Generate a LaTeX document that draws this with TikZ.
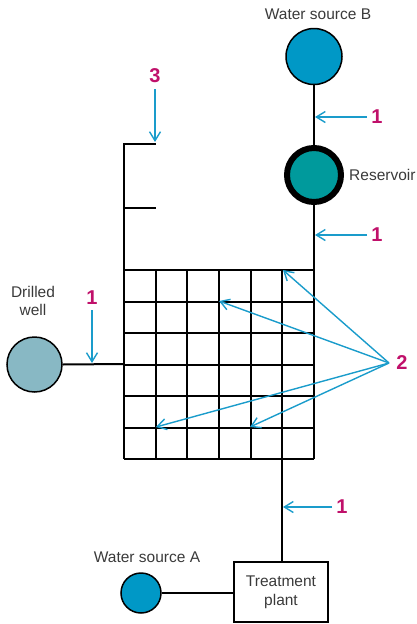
\documentclass[tikz,border=0pt]{standalone}
\usepackage{fontspec}
\setmainfont{Liberation Sans}
\usetikzlibrary{arrows.meta}
\definecolor{srcblue}{HTML}{0098C6}
\definecolor{wellblue}{HTML}{88B8C4}
\definecolor{resteal}{HTML}{009A9C}
\definecolor{arrcyan}{HTML}{1A9CCB}
\definecolor{labmag}{HTML}{C0106A}
\definecolor{txtgray}{HTML}{3A3A3A}
\tikzset{
  pipe/.style={line width=2pt, black},
  callout/.style={line width=1.4pt, arrcyan, -{Straight Barb[length=9pt,width=11pt,line width=1.4pt]}},
  num/.style={text=labmag, font=\fontsize{20}{20}\selectfont\bfseries, inner sep=0pt},
  lbl/.style={text=txtgray, font=\fontsize{15.5}{18}\selectfont, inner sep=0pt, align=center},
  src/.style={circle, draw=black, line width=1.5pt, fill=srcblue, inner sep=0pt},
}
\begin{document}
\begin{tikzpicture}[x=1pt,y=-1pt]
\useasboundingbox (0,0) rectangle (417,624);
% sources
\node[src, minimum size=56pt] (B) at (314,56.5) {};
\node[lbl] (Blbl) at (318,14) {Water source B};
\node[circle, draw=black, line width=6pt, fill=resteal, minimum size=54pt, inner sep=0pt] (R) at (314,175) {};
\node[lbl, anchor=west] (Rlbl) at (349,175) {Reservoir};
\node[circle, draw=black, line width=1.5pt, fill=wellblue, minimum size=55pt, inner sep=0pt] (W) at (34.5,364.5) {};
\node[lbl] (Wlbl) at (33,301) {Drilled\\well};
\node[src, minimum size=40pt] (A) at (141,593) {};
\node[lbl] (Albl) at (147,557) {Water source A};
\node[draw=black, line width=2pt, minimum width=94pt, minimum height=60pt, inner sep=0pt] (T) at (281,592) {};
\node[lbl, font=\fontsize{15.5}{19}\selectfont] (Tlbl) at (T.center) {Treatment\\plant};
% grid
\foreach \i in {0,...,6} {
  \draw[pipe] ({124+\i*31.67},270) -- ({124+\i*31.67},459);
  \draw[pipe] (124,{270+\i*31.5}) -- (314,{270+\i*31.5});
}
\coordinate (gtr) at (314,270);
\coordinate (gtl) at (124,270);
\coordinate (gml) at (124,364);
\coordinate (gbot) at (282,459);
% pipes
\draw[pipe] (B.south) -- (R.north);
\draw[pipe] (R.south) -- (gtr);
\draw[pipe] (gtl) -- (124,144.3) -- (156,144.3);
\draw[pipe] (124,207.7) -- (156,207.7);
\draw[pipe] (W.east) -- (gml);
\draw[pipe] (gbot) -- (T.north -| gbot);
\draw[pipe] (A.east) -- (T.west |- A.east);
% callouts 1
\node[num] (n1a) at (377,117) {1};
\draw[callout] (n1a.west) ++(-4,0) -- (315,117);
\node[num] (n1b) at (377,235) {1};
\draw[callout] (n1b.west) ++(-4,0) -- (315,235);
\node[num] (n1c) at (92,298) {1};
\draw[callout] (n1c.south) ++(0,5) -- (92,363);
\node[num] (n1d) at (342,507) {1};
\draw[callout] (n1d.west) ++(-4,0) -- (283,507);
% callout 3
\node[num] (n3) at (155,76) {3};
\draw[callout] (n3.south) ++(0,6) -- (155,142);
% callout 2
\node[num] (n2) at (402,363) {2};
\coordinate (c2) at (389,363);
\draw[callout] (c2) -- (283,270);
\draw[callout] (c2) -- (219,301);
\draw[callout] (c2) -- (156,427);
\draw[callout] (c2) -- (250,427);
\end{tikzpicture}
\end{document}
